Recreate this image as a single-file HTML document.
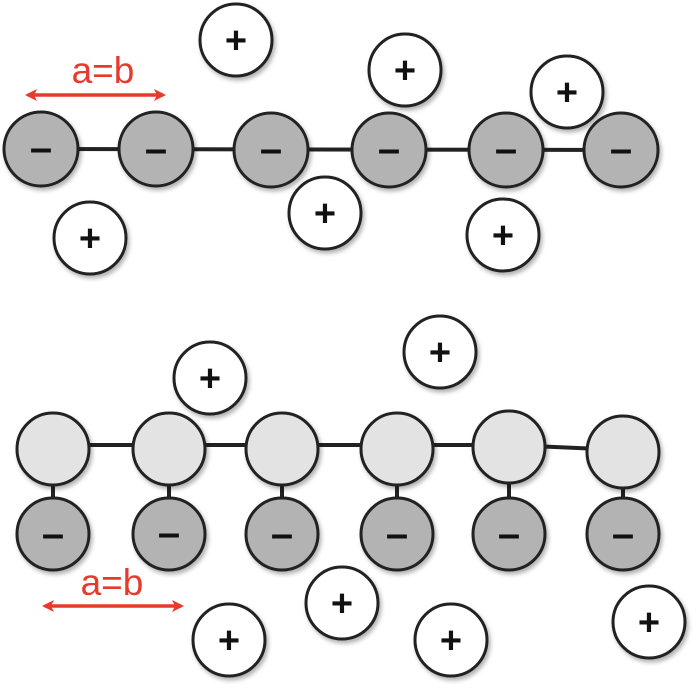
<!DOCTYPE html>
<html><head><style>body{margin:0;background:#fff}svg{display:block}</style></head><body>
<svg width="700" height="694" viewBox="0 0 700 694" xmlns="http://www.w3.org/2000/svg">
<defs>
<filter id="s" x="-30%" y="-30%" width="160%" height="160%"><feDropShadow dx="2" dy="3" stdDeviation="2" flood-color="#000" flood-opacity="0.3"/></filter>
<marker id="a" markerWidth="12" markerHeight="12" refX="9" refY="6" orient="auto-start-reverse" markerUnits="userSpaceOnUse"><path d="M0,0 L12,6 L0,12 L3,6 Z" fill="#e8392d"/></marker>
</defs>
<g stroke="#222" stroke-width="4">
<line x1="41" y1="149" x2="621" y2="150"/>
<line x1="53" y1="445" x2="509" y2="445"/>
<line x1="509" y1="445" x2="623" y2="450"/>
<line x1="53" y1="449" x2="53" y2="534"/><line x1="169" y1="449" x2="169" y2="534"/><line x1="282" y1="449" x2="282" y2="534"/><line x1="397" y1="449" x2="397" y2="534"/><line x1="509" y1="449" x2="509" y2="534"/><line x1="623" y1="449" x2="623" y2="534"/>
</g>
<g stroke="#222" stroke-width="3" filter="url(#s)">
<g fill="#b3b3b3">
<circle cx="41" cy="149" r="37"/><circle cx="156" cy="149" r="37"/><circle cx="271" cy="150" r="37"/><circle cx="389" cy="150" r="37"/><circle cx="506" cy="150" r="37"/><circle cx="621" cy="150" r="37"/>
<circle cx="53" cy="534" r="36"/><circle cx="169" cy="534" r="36"/><circle cx="282" cy="534" r="36"/><circle cx="397" cy="534" r="36"/><circle cx="509" cy="534" r="36"/><circle cx="623" cy="534" r="36"/>
</g>
<g fill="#e3e3e3">
<circle cx="53" cy="449" r="36"/><circle cx="169" cy="449" r="36"/><circle cx="282" cy="449" r="36"/><circle cx="397" cy="449" r="36"/><circle cx="509" cy="447" r="36"/><circle cx="623" cy="452" r="36"/>
</g>
<g fill="#fff">
<circle cx="236" cy="40" r="36"/><circle cx="405" cy="70" r="36"/><circle cx="567" cy="92" r="36"/><circle cx="90" cy="238" r="36"/><circle cx="325" cy="213" r="36"/><circle cx="503" cy="235" r="36"/>
<circle cx="210" cy="378" r="36"/><circle cx="440" cy="352" r="36"/><circle cx="342" cy="603" r="36"/><circle cx="229" cy="640" r="36"/><circle cx="451" cy="640" r="36"/><circle cx="649" cy="622" r="36"/>
</g>
</g>
<!-- minus signs as text-like dashes -->
<g font-family="Liberation Sans, sans-serif" font-size="40" font-weight="bold" text-anchor="middle" fill="#111">
<text x="41" y="161">–</text><text x="156" y="162">–</text><text x="271" y="162">–</text><text x="389" y="162">–</text><text x="506" y="162">–</text><text x="621" y="162">–</text>
<text x="53" y="547">–</text><text x="169" y="546">–</text><text x="282" y="547">–</text><text x="397" y="547">–</text><text x="509" y="547">–</text><text x="623" y="547">–</text>
</g>
<g font-family="Liberation Sans, sans-serif" font-size="38" font-weight="bold" text-anchor="middle" fill="#111">
<text x="236" y="53">+</text><text x="405" y="83">+</text><text x="567" y="105">+</text><text x="90" y="251">+</text><text x="325" y="226">+</text><text x="503" y="248">+</text>
<text x="210" y="391">+</text><text x="440" y="365">+</text><text x="342" y="616">+</text><text x="229" y="653">+</text><text x="451" y="653">+</text><text x="649" y="635">+</text>
</g>
<g stroke="#e8392d" stroke-width="3.5">
<line x1="28" y1="95" x2="163" y2="95" marker-start="url(#a)" marker-end="url(#a)"/>
<line x1="45" y1="606" x2="181" y2="606" marker-start="url(#a)" marker-end="url(#a)"/>
</g>
<g font-family="Liberation Sans, sans-serif" font-size="37" text-anchor="middle" fill="#e8392d">
<text x="103" y="83">a=b</text><text x="112" y="595">a=b</text>
</g>
</svg>
</body></html>
